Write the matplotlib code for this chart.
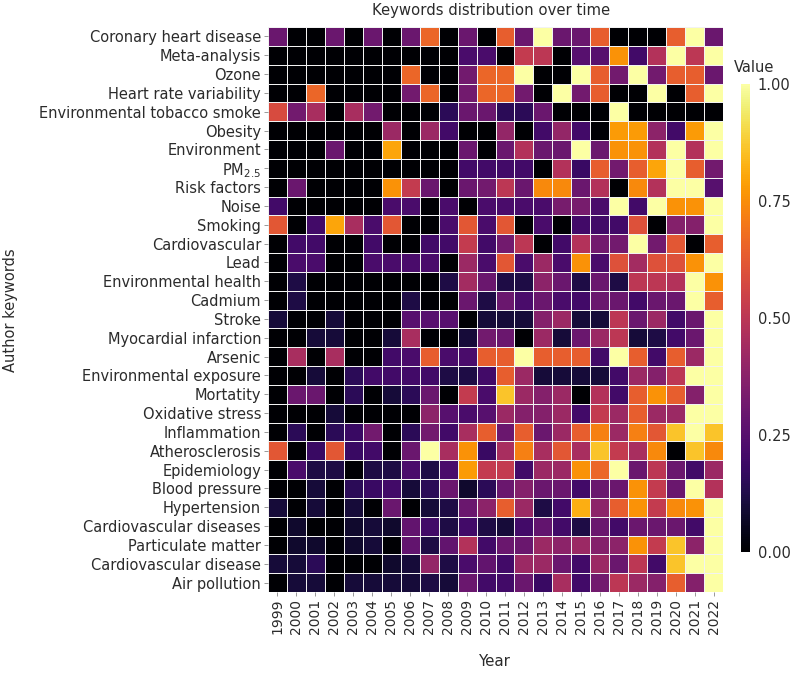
import numpy as np
import matplotlib
matplotlib.use("Agg")
import matplotlib.pyplot as plt

keywords = [
    "Coronary heart disease", "Meta-analysis", "Ozone", "Heart rate variability",
    "Environmental tobacco smoke", "Obesity", "Environment", r"PM$_\mathregular{2.5}$",
    "Risk factors", "Noise", "Smoking", "Cardiovascular", "Lead",
    "Environmental health", "Cadmium", "Stroke", "Myocardial infarction", "Arsenic",
    "Environmental exposure", "Mortatity", "Oxidative stress", "Inflammation",
    "Atherosclerosis", "Epidemiology", "Blood pressure", "Hypertension",
    "Cardiovascular diseases", "Particulate matter", "Cardiovascular disease",
    "Air pollution",
]
years = [str(y) for y in range(1999, 2023)]

# one row per keyword, 1999 -> 2022
coronary = [.3, 0, 0, .3, 0, .3, 0, .3, .66, 0, .3, 0, .64, .3, 1, .3, .3, .64, 0, 0, 0, .64, 1, .3]
meta = [0, 0, 0, 0, 0, 0, 0, 0, 0, 0, .22, .22, 0, .52, .5, 0, .25, .25, .76, .2, .48, 1, .5, 1]
ozone = [0, 0, 0, 0, 0, 0, 0, .66, 0, 0, .32, .66, .66, 1, 0, 0, 1, .64, .32, 1, .32, .64, .64, .3]
hrv = [0, 0, .66, 0, 0, 0, 0, .32, .66, 0, .32, .66, .66, .32, 0, 1, .32, .64, 0, 0, 1, 0, .64, 1]
ets = [.58, .32, .45, 0, .45, .32, 0, 0, 0, .15, .3, .3, .15, .15, .3, 0, 0, 0, 1, 0, 0, 0, 0, 0]
obesity = [0, 0, 0, 0, 0, 0, .42, 0, .42, .2, 0, 0, .4, 0, .2, .4, .2, 0, .78, .78, .38, .2, .78, 1]
environment = [0, 0, 0, .3, 0, 0, .8, 0, 0, 0, .3, 0, .3, .48, .3, .3, 1, .3, .76, .76, .48, 1, .48, 1]
pm25 = [0, 0, 0, 0, 0, 0, 0, 0, 0, 0, .2, .2, .2, .2, 0, .48, .18, .64, .32, .64, .8, 1, .64, .32]
risk = [0, .3, 0, 0, 0, 0, .76, .52, .3, 0, .3, .32, .5, .3, .74, .74, .3, .48, 0, .74, .48, 1, 1, .25]
noise = [.2, 0, 0, 0, 0, 0, .22, .22, 0, .22, 0, .22, .22, .22, .22, .33, .33, .22, 1, .2, 1, .76, .76, 1]
smoking = [.62, 0, .2, .8, .45, .22, .62, 0, 0, .22, .62, .22, .62, 0, .22, 0, .2, .2, .2, .6, 0, .36, .36, 1]
cardio = [0, .2, .2, 0, 0, .2, 0, 0, .2, .2, .52, .2, .32, .5, 0, .2, .48, .32, .32, 1, .32, .62, 0, .64]
lead = [0, .22, .22, 0, 0, .22, .22, .22, .22, 0, .42, .22, .62, .22, .42, .22, .76, .22, .6, .44, .6, .6, .76, 1]
env_health = [0, .12, 0, 0, 0, 0, 0, 0, 0, .12, .44, .3, .12, .12, .38, .3, .12, .3, .12, .5, .5, .48, 1, .76]
cadmium = [0, .12, 0, 0, 0, 0, 0, .12, 0, 0, .3, .12, .3, .22, .3, .22, .2, .3, .3, .2, .3, .3, 1, .64]
stroke = [.1, 0, 0, .1, 0, 0, 0, .25, .25, .25, 0, .1, .1, .1, .36, .42, .1, .1, .5, .3, .42, .2, .3, 1]
mi = [0, 0, .1, .1, 0, 0, .1, .45, 0, 0, .1, .32, .3, 0, .42, .1, .3, .42, .5, .1, .12, .2, .3, 1]
arsenic = [0, .45, 0, .45, 0, 0, .2, .22, .64, .22, .22, .64, .64, 1, .64, .64, .64, .2, 1, .64, .2, .64, .42, 1]
env_exposure = [0, 0, .1, 0, .15, .2, .2, .2, .2, .12, .12, .2, .64, .42, .1, .1, .1, .1, .2, .42, .36, .5, 1, 1]
mortality = [0, .3, .3, 0, .15, 0, .1, .15, .3, 0, .52, .22, .86, .42, .36, .42, 0, .48, .2, .64, .76, .64, .36, 1]
oxidative = [0, 0, 0, .1, 0, 0, 0, 0, .38, .25, .22, .25, .42, .36, .36, .42, .2, .52, .42, .64, .42, .42, 1, 1]
inflammation = [0, .15, 0, .15, .18, .32, 0, .15, .32, .2, .45, .64, .3, .64, .3, .42, .64, .72, .42, .72, .62, .86, 1, .86]
athero = [.62, 0, .18, .62, .18, .2, 0, .3, 1, .45, .76, .18, .45, .72, .45, .62, .45, .86, .52, .45, .74, 0, .86, .74]
epidemiology = [0, .22, .12, .12, 0, .12, .12, .22, .12, .22, .78, .52, .52, .2, .42, .42, .76, .66, 1, .3, .5, .3, .2, .42]
blood_pressure = [0, 0, .1, 0, .15, .18, .2, .1, .15, .3, .08, .15, .3, .36, .3, .3, .2, .3, .3, .76, .52, .3, 1, .48]
hypertension = [.1, 0, .1, 0, .1, 0, .3, 0, .1, .12, .3, .38, .64, .42, .12, .2, .82, .38, .64, .76, .52, .74, .76, 1]
cv_diseases = [0, .08, 0, 0, .08, .1, .08, .28, .2, .12, .2, .12, .1, .2, .28, .2, .12, .3, .2, .3, .3, .3, .2, 1]
particulate = [0, .08, .08, 0, .08, .1, 0, .28, .12, .28, .48, .2, .3, .3, .42, .38, .42, .36, .38, .76, .52, .86, .38, 1]
cv_disease = [.1, .1, .15, 0, 0, 0, .08, .1, .4, .12, .22, .28, .2, .42, .42, .3, .2, .42, .3, .5, .2, .86, 1, 1]
air_pollution = [0, .1, .1, 0, .1, .1, .1, .1, .12, .1, .3, .2, .2, .3, .18, .45, .2, .32, .5, .42, .36, .64, .36, 1]

values = np.array([
    coronary, meta, ozone, hrv, ets, obesity, environment, pm25, risk, noise,
    smoking, cardio, lead, env_health, cadmium, stroke, mi, arsenic, env_exposure,
    mortality, oxidative, inflammation, athero, epidemiology, blood_pressure,
    hypertension, cv_diseases, particulate, cv_disease, air_pollution,
])

TEXT = "#2b2b2b"
W, H = 793, 677
plt.rcParams["font.family"] = ["DejaVu Sans"]

fig = plt.figure(figsize=(W / 100, H / 100), dpi=100)
# heatmap box in pixels: x 268..723, y 27..592
ax = fig.add_axes([268 / W, 1 - 592 / H, 455 / W, 565 / H])

mesh = ax.pcolormesh(np.arange(len(years) + 1), np.arange(len(keywords) + 1), values,
                     cmap="inferno", vmin=0, vmax=1, edgecolors="#f2f2f2", linewidth=0.7)
ax.set_xlim(0, len(years))
ax.set_ylim(len(keywords), 0)
ax.set_xticks(np.arange(len(years)) + 0.5)
ax.set_xticklabels(years, rotation=90, fontsize=10, color=TEXT)
ax.set_yticks(np.arange(len(keywords)) + 0.5)
ax.set_yticklabels(keywords, fontsize=10.5, color=TEXT)
ax.tick_params(length=3, width=0.6, color="#888888", pad=2)
for s in ax.spines.values():
    s.set_visible(False)

fig.text(491 / W, 1 - 10 / H, "Keywords distribution over time",
         ha="center", va="center", fontsize=10.7, color=TEXT)
fig.text(495 / W, 1 - 662 / H, "Year", ha="center", va="center",
         fontsize=10.8, color=TEXT)
fig.text(11 / W, 1 - 310 / H, "Author keywords", ha="center", va="center",
         rotation=90, fontsize=10.5, color=TEXT)

# colorbar in pixels: x 741..749.5, y 84..552
cax = fig.add_axes([741 / W, 1 - 552 / H, 8.5 / W, 468 / H])
cb = fig.colorbar(mesh, cax=cax, ticks=[0, 0.25, 0.5, 0.75, 1.0], format="%.2f")
cb.outline.set_visible(False)
cax.tick_params(length=0, labelsize=10.5, labelcolor=TEXT, pad=6)
fig.text(734 / W, 1 - 67 / H, "Value", ha="left", va="center",
         fontsize=10.5, color=TEXT)

fig.savefig("out.png", dpi=100)
